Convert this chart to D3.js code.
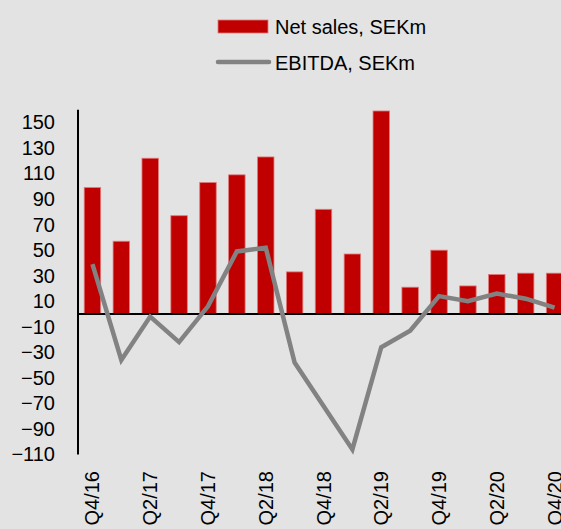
<!DOCTYPE html>
<html lang="en">
<head>
  <meta charset="UTF-8">
  <title>Net sales and EBITDA, SEKm</title>
  <script src="https://d3js.org/d3.v7.min.js"></script>
  <style>
    body { margin: 0; background: #e3e3e3; }
    svg { display: block; font-family: "Liberation Sans", Arial, sans-serif; }
    .tick-label { font-size: 20px; fill: #000; }
    .legend-text { font-size: 20px; fill: #000; }
  </style>
</head>
<body>
  <div id="chart"></div>
  <script>
    const quarters = ["Q4/16", "Q1/17", "Q2/17", "Q3/17", "Q4/17", "Q1/18", "Q2/18", "Q3/18", "Q4/18",
                      "Q1/19", "Q2/19", "Q3/19", "Q4/19", "Q1/20", "Q2/20", "Q3/20", "Q4/20"];
    const netSales = [99, 57, 122, 77, 103, 109, 123, 33, 82, 47, 159, 21, 50, 22, 31, 32, 32];
    const ebitda = [39, -36, -2, -22, 6, 49, 52, -38, -72, -106, -26, -13, 14, 10, 16, 12, 5];
    const yTicks = [150, 130, 110, 90, 70, 50, 30, 10, -10, -30, -50, -70, -90, -110];
    const seriesNames = ["Net sales, SEKm", "EBITDA, SEKm"];

    const W = 561, H = 529;
    const svg = d3.select("#chart").append("svg")
      .attr("width", W).attr("height", H);

    svg.append("rect").attr("width", W).attr("height", H).attr("fill", "#e3e3e3");

    const x = d3.scaleBand()
      .domain(quarters)
      .range([78, 569])
      .paddingInner(0.43)
      .paddingOuter(0.215);

    const y = d3.scaleLinear()
      .domain([-110, 160])
      .range([454.5, 109.7]);

    // bars
    svg.selectAll(".bar")
      .data(quarters)
      .enter()
      .append("rect")
      .attr("class", "bar")
      .attr("x", d => x(d))
      .attr("width", x.bandwidth())
      .attr("y", (d, i) => y(netSales[i]))
      .attr("height", (d, i) => y(0) - y(netSales[i]))
      .attr("fill", "#c00000")
      .attr("stroke", "#e07a7a")
      .attr("stroke-width", 0.8);

    // zero line
    svg.append("line")
      .attr("x1", 78).attr("x2", W)
      .attr("y1", y(0)).attr("y2", y(0))
      .attr("stroke", "#000").attr("stroke-width", 2);

    // y axis
    const yAxis = svg.append("g")
      .attr("transform", "translate(78,0)")
      .call(d3.axisLeft(y).tickValues(yTicks).tickSize(0).tickPadding(23));
    yAxis.select(".domain").remove();
    yAxis.selectAll("text")
      .attr("class", "tick-label")
      .attr("font-family", null)
      .attr("font-size", null);
    svg.append("line")
      .attr("x1", 78).attr("x2", 78)
      .attr("y1", y(160)).attr("y2", y(-110))
      .attr("stroke", "#000").attr("stroke-width", 2);

    // x axis labels, every second quarter
    const xAxis = svg.append("g")
      .attr("transform", "translate(0,464)")
      .call(d3.axisBottom(x).tickValues(quarters.filter((d, i) => i % 2 === 0)).tickSize(0));
    xAxis.select(".domain").remove();
    xAxis.selectAll("text")
      .attr("class", "tick-label")
      .attr("font-family", null)
      .attr("font-size", null)
      .attr("transform", "rotate(-90)")
      .attr("text-anchor", "end")
      .attr("x", -7)
      .attr("y", 0)
      .attr("dy", "0.35em");

    // EBITDA line
    const line = d3.line()
      .x((d, i) => x(quarters[i]) + x.bandwidth() / 2)
      .y(d => y(d));
    svg.append("path")
      .datum(ebitda)
      .attr("d", line)
      .attr("fill", "none")
      .attr("stroke", "#828282")
      .attr("stroke-width", 4.5);

    // legend
    const legend = svg.append("g");
    legend.append("rect")
      .attr("x", 218).attr("y", 20).attr("width", 50).attr("height", 13)
      .attr("fill", "#c00000").attr("stroke", "#e07a7a").attr("stroke-width", 0.8);
    legend.append("line")
      .attr("x1", 218).attr("x2", 269).attr("y1", 62).attr("y2", 62)
      .attr("stroke", "#828282").attr("stroke-width", 4.5).attr("stroke-linecap", "round");
    legend.selectAll(".legend-text")
      .data(seriesNames)
      .enter()
      .append("text")
      .attr("class", "legend-text")
      .attr("x", 275)
      .attr("y", (d, i) => 34 + i * 36)
      .text(d => d);
  </script>
</body>
</html>
